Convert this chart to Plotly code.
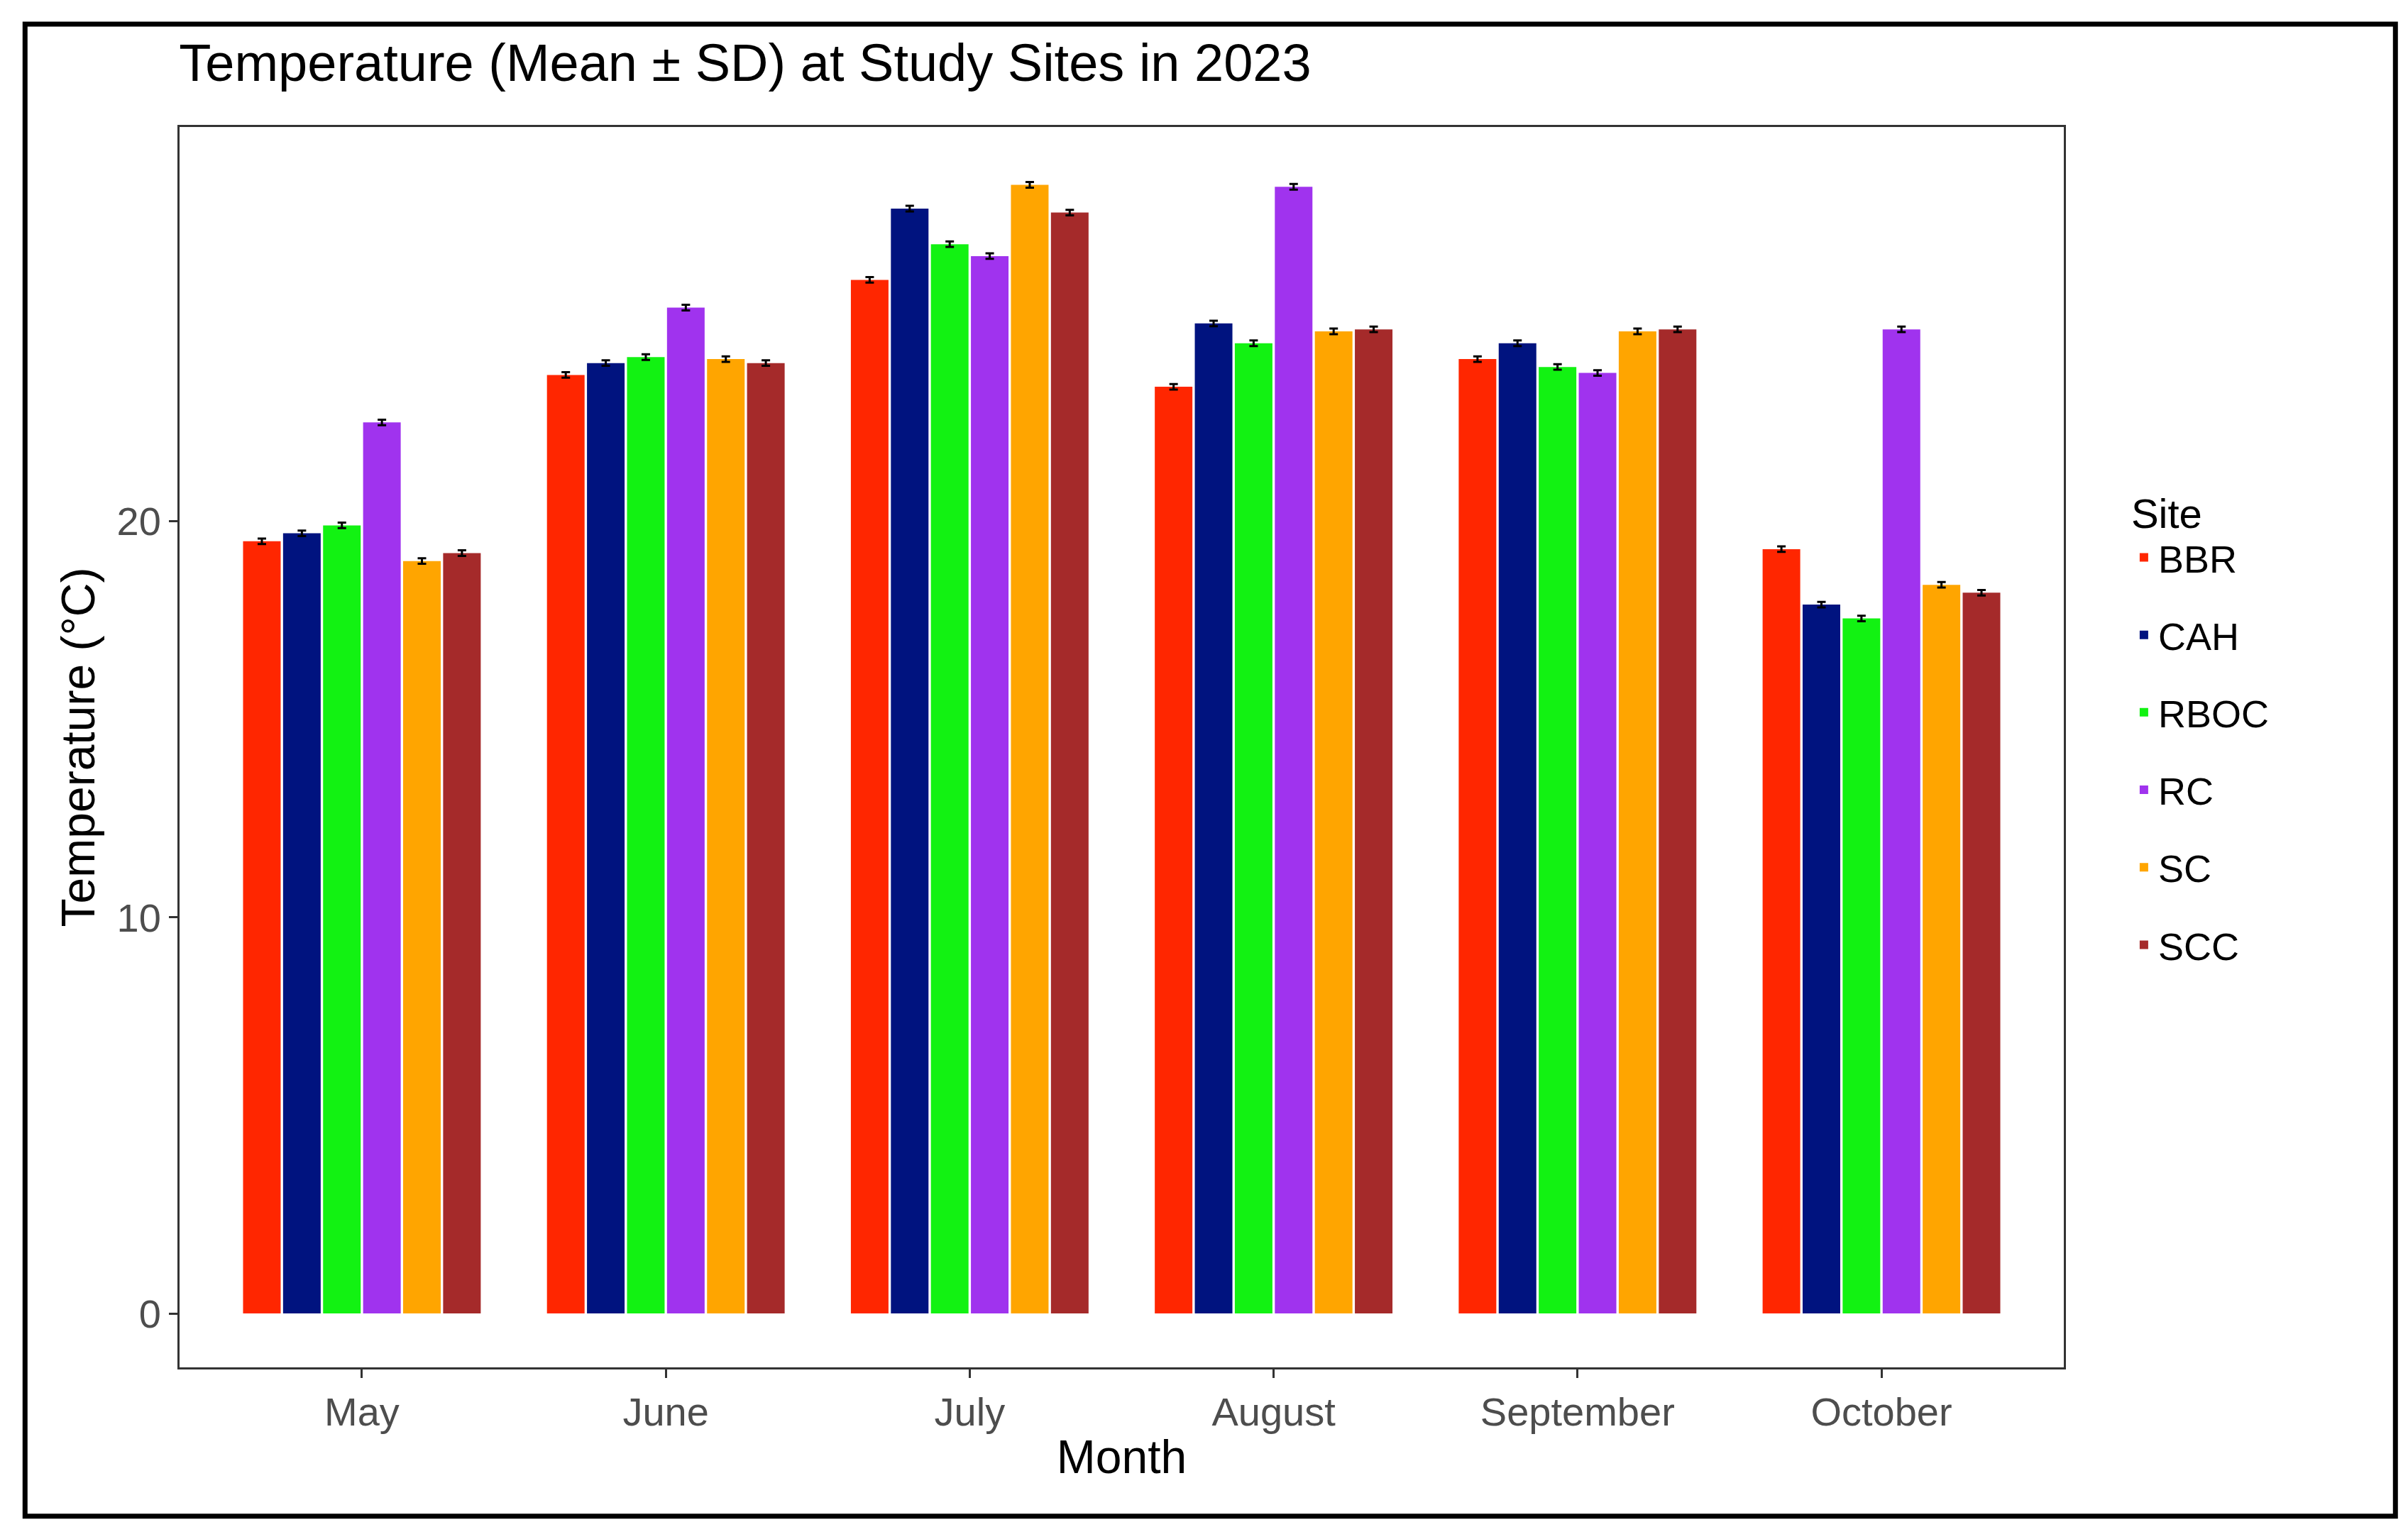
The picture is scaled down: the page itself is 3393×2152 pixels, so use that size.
import plotly.graph_objects as go

months = ['May', 'June', 'July', 'August', 'September', 'October']
sites = ['BBR', 'CAH', 'RBOC', 'RC', 'SC', 'SCC']
site_colors = ['#FF2600', '#00137F', '#12F212', '#A033EE', '#FFA500', '#A52A2A']

bbr = [19.5, 23.7, 26.1, 23.4, 24.1, 19.3]
cah = [19.7, 24.0, 27.9, 25.0, 24.5, 17.9]
rboc = [19.9, 24.15, 27.0, 24.5, 23.9, 17.55]
rc = [22.5, 25.4, 26.7, 28.45, 23.75, 24.85]
sc = [19.0, 24.1, 28.5, 24.8, 24.8, 18.4]
scc = [19.2, 24.0, 27.8, 24.85, 24.85, 18.2]
sd = [0.07, 0.07, 0.07, 0.07, 0.07, 0.07]


def create_temp_chart():
    fig = go.Figure()

    for site, values, color in zip(sites, [bbr, cah, rboc, rc, sc, scc], site_colors):
        fig.add_trace(go.Bar(
            x=months,
            y=values,
            name=site,
            legendgroup=site,  # one group per site so the legend rows spread out
            marker=dict(color=color, line=dict(width=0)),
            error_y=dict(type='data', array=sd, color='black', thickness=3, width=6)
        ))

    fig.update_layout(
        title=dict(text='Temperature (Mean ± SD) at Study Sites in 2023', x=0.072, xanchor='left',
                   y=0.975, font=dict(size=74, color='black')),
        font=dict(family='Liberation Sans', size=56, color='black'),
        width=3393, height=2152,
        margin=dict(l=245, r=493, t=171, b=233),
        plot_bgcolor='white', paper_bgcolor='white',
        barmode='group', bargap=0.21, bargroupgap=0.06,
        legend=dict(title=dict(text='Site', font=dict(size=58)), x=1.035, y=0.72,
                    xanchor='left', yanchor='top', font=dict(size=54), tracegroupgap=36),
        xaxis=dict(title=dict(text='Month', font=dict(size=66), standoff=10),
                   range=[-0.6, 5.6], showgrid=False, ticks='outside', ticklen=12,
                   tickcolor='#333333', tickwidth=3, tickfont=dict(color='#4D4D4D'),
                   showline=True, linecolor='#333333', linewidth=3, mirror=True),
        yaxis=dict(title=dict(text='Temperature (°C)', font=dict(size=66), standoff=10),
                   range=[-1.36, 29.96], tickvals=[0, 10, 20], showgrid=False, zeroline=False,
                   ticks='outside', ticklen=12, tickcolor='#333333', tickwidth=3,
                   tickfont=dict(color='#4D4D4D'),
                   showline=True, linecolor='#333333', linewidth=3, mirror=True)
    )

    # outer frame round the whole figure
    fig.add_shape(type='rect', xref='paper', yref='paper', x0=-0.082, x1=1.176, y0=-0.12, y1=1.083,
                  line=dict(color='black', width=7))

    return fig


def main():
    fig = create_temp_chart()
    fig.write_html('out.html')


if __name__ == '__main__':
    main()
